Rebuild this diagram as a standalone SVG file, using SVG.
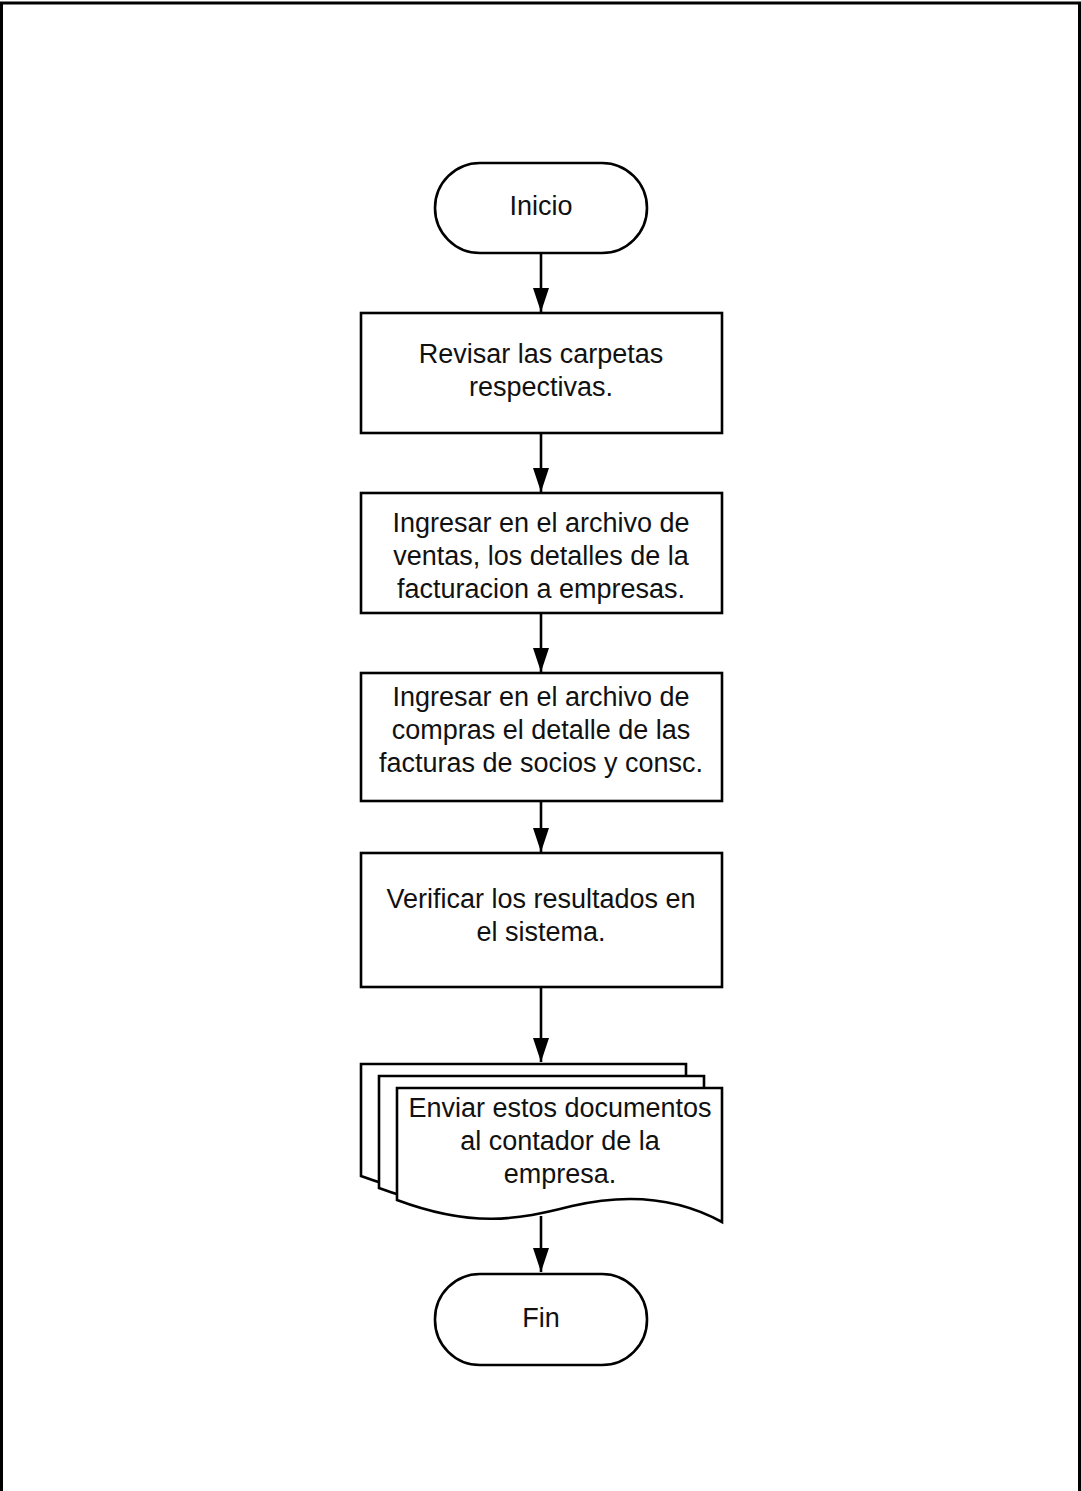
<svg xmlns="http://www.w3.org/2000/svg" width="1081" height="1491" viewBox="0 0 1081 1491">
  <style>
    .shape { fill: #ffffff; stroke: #000000; stroke-width: 2.6; }
    .label { font-family: "Liberation Sans", Arial, sans-serif; font-size: 27px; fill: #111111; text-anchor: middle; }
    .edge { stroke: #000000; stroke-width: 2.6; fill: none; }
  </style>
  <defs>
    <marker id="arrow" markerUnits="userSpaceOnUse" markerWidth="24" markerHeight="16" refX="24" refY="8" viewBox="0 0 24 16" orient="auto">
      <path d="M0,0 L24,8 L0,16 Z" fill="#000000"/>
    </marker>
    <!-- single sheet of the multi-document symbol, origin at its top-left corner -->
    <path id="sheet" d="M0,0 H325 V134 C285,112 235,104 175,118 C120,132 75,140 0,112 Z"/>
  </defs>

  <!-- page frame (open at the bottom) -->
  <path d="M1.5,1491 V3 H1079.5 V1491" fill="none" stroke="#000000" stroke-width="3"/>

  <g id="connectors">
    <line class="edge" x1="541" y1="253" x2="541" y2="312" marker-end="url(#arrow)"/>
    <line class="edge" x1="541" y1="433" x2="541" y2="492" marker-end="url(#arrow)"/>
    <line class="edge" x1="541" y1="613" x2="541" y2="672" marker-end="url(#arrow)"/>
    <line class="edge" x1="541" y1="801" x2="541" y2="852" marker-end="url(#arrow)"/>
    <line class="edge" x1="541" y1="987" x2="541" y2="1062" marker-end="url(#arrow)"/>
    <line class="edge" x1="541" y1="1216" x2="541" y2="1272" marker-end="url(#arrow)"/>
  </g>

  <g id="inicio">
    <rect class="shape" x="435" y="163" width="212" height="90" rx="45" ry="45"/>
    <text class="label" x="541" y="215">Inicio</text>
  </g>

  <g id="revisar">
    <rect class="shape" x="361" y="313" width="361" height="120"/>
    <text class="label" x="541" y="363">Revisar las carpetas</text>
    <text class="label" x="541" y="396">respectivas.</text>
  </g>

  <g id="ingresar-ventas">
    <rect class="shape" x="361" y="493" width="361" height="120"/>
    <text class="label" x="541" y="532">Ingresar en el archivo de</text>
    <text class="label" x="541" y="565">ventas, los detalles de la</text>
    <text class="label" x="541" y="598">facturacion a empresas.</text>
  </g>

  <g id="ingresar-compras">
    <rect class="shape" x="361" y="673" width="361" height="128"/>
    <text class="label" x="541" y="706">Ingresar en el archivo de</text>
    <text class="label" x="541" y="739">compras el detalle de las</text>
    <text class="label" x="541" y="772">facturas de socios y consc.</text>
  </g>

  <g id="verificar">
    <rect class="shape" x="361" y="853" width="361" height="134"/>
    <text class="label" x="541" y="908">Verificar los resultados en</text>
    <text class="label" x="541" y="941">el sistema.</text>
  </g>

  <g id="enviar">
    <use href="#sheet" class="shape" transform="translate(361,1064)"/>
    <use href="#sheet" class="shape" transform="translate(379,1076)"/>
    <use href="#sheet" class="shape" transform="translate(397,1088)"/>
    <text class="label" x="560" y="1117">Enviar estos documentos</text>
    <text class="label" x="560" y="1150">al contador de la</text>
    <text class="label" x="560" y="1183">empresa.</text>
  </g>

  <g id="fin">
    <rect class="shape" x="435" y="1274" width="212" height="91" rx="45" ry="45"/>
    <text class="label" x="541" y="1327">Fin</text>
  </g>
</svg>
